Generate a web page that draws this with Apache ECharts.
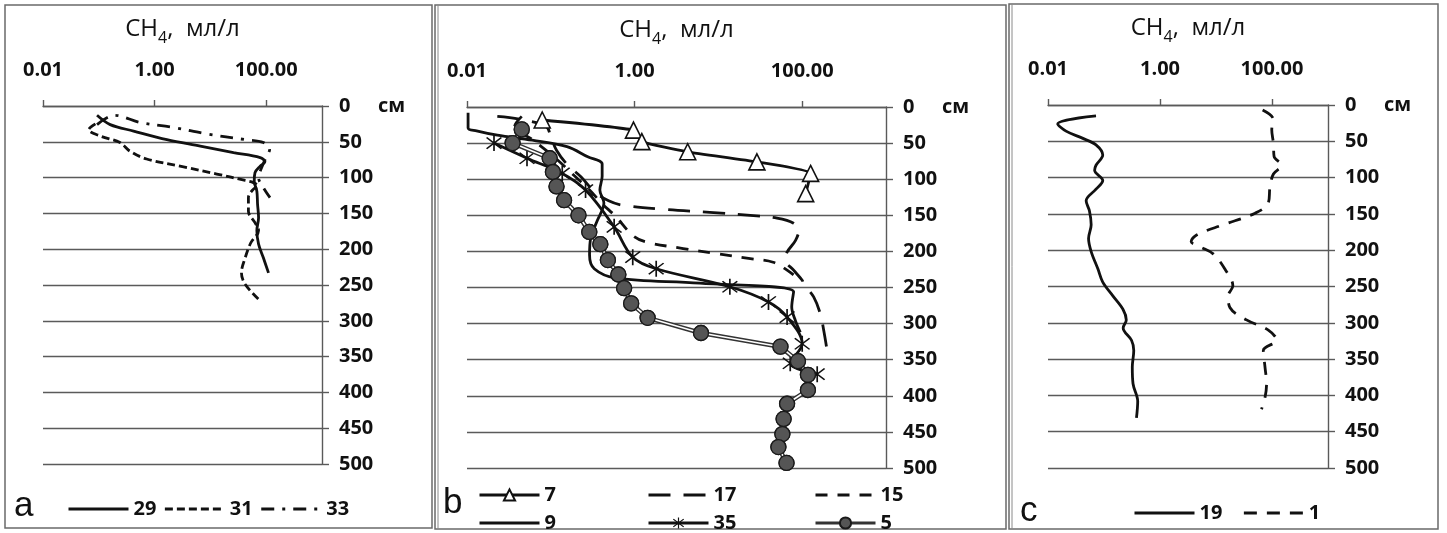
<!DOCTYPE html>
<html>
<head>
<meta charset="utf-8">
<script src="https://cdn.jsdelivr.net/npm/echarts@6/dist/echarts.min.js"></script>
<style>
html,body{margin:0;padding:0;background:#fff;}
#chart{width:1447px;height:533px;}
</style>
</head>
<body>
<div id="chart"></div>
<script>
// ---------- tick labels ----------
const xTickValues = [0.01, 1, 100];          // labelled CH4 ticks (log axis)
const depthMin = 0, depthMax = 500, depthStep = 50;
const xAxisTitle = '{m|CH}{s|4}{m|,  мл/л}';
const depthUnit = 'см';
const panelLetters = ['a', 'b', 'c'];

// ---------- panel a ----------
const a29Depth = [13, 26, 35, 47, 56, 65, 72, 78, 84, 93, 105, 119, 137, 156, 174, 193, 212, 233];
const a29CH4   = [0.093, 0.16, 0.42, 1.66, 6.6, 26, 78, 95, 78, 63, 61, 68, 70, 73, 68, 73, 89, 110];
const a31Depth = [25, 33, 42, 51, 63, 74, 85, 95, 104, 107, 112, 116, 128, 147, 163, 174, 191, 212, 233, 249, 270];
const a31CH4   = [0.087, 0.066, 0.107, 0.24, 0.36, 0.72, 3.3, 13, 42, 59, 72, 59, 48, 48, 63, 73, 53, 42, 36, 42, 73];
const a33Depth = [26, 13, 23, 30, 39, 47, 51, 61, 70, 86, 100, 114, 128];
const a33CH4   = [0.093, 0.19, 0.55, 2.2, 8.7, 42, 89, 115, 102, 83, 73, 89, 117];

// ---------- panel b ----------
const b7Depth  = [18, 32, 48, 62, 76, 92, 120];
const b7CH4    = [0.079, 0.97, 1.22, 4.3, 28.8, 126, 110];
const b9Depth  = [8, 29, 33, 39, 46, 55, 69, 79, 96, 115, 133, 157, 181, 205, 224, 237, 244, 256, 277, 296, 312];
const b9CH4    = [0.0103, 0.0103, 0.013, 0.023, 0.06, 0.156, 0.276, 0.41, 0.41, 0.385, 0.43, 0.36, 0.30, 0.29, 0.33, 0.6, 6, 79, 75, 83, 95];
const b17Depth = [13, 17, 27, 41, 60, 79, 97, 117, 130, 136, 142, 146, 150, 154, 161, 171, 185, 201, 212, 226, 240, 245, 263, 287, 310, 340];
const b17CH4   = [0.023, 0.043, 0.088, 0.10, 0.117, 0.155, 0.23, 0.33, 0.49, 0.72, 2.4, 7.9, 24, 50, 79, 91, 83, 66, 63, 79, 100, 104, 137, 165, 181, 200];
const b15Depth = [13, 27, 45, 71, 95, 115, 134, 152, 178, 187, 196, 203, 210, 215, 226, 240];
const b15CH4   = [0.045, 0.037, 0.06, 0.114, 0.19, 0.29, 0.41, 0.6, 0.95, 1.37, 3.8, 9.5, 24, 45, 66, 95];
const b35Depth = [50, 71, 92, 115, 166, 208, 224, 249, 270, 291, 328, 355, 370];
const b35CH4   = [0.021, 0.052, 0.137, 0.26, 0.57, 0.95, 1.81, 13.7, 39.6, 66, 100, 72, 151];
const b5Depth  = [31, 50, 71, 90, 110, 129, 150, 173, 190, 212, 232, 251, 272, 292, 313, 332, 352, 371, 392, 411, 432, 453, 471, 493];
const b5CH4    = [0.045, 0.035, 0.097, 0.106, 0.117, 0.144, 0.214, 0.288, 0.39, 0.48, 0.64, 0.75, 0.91, 1.43, 6.2, 55, 89, 117, 117, 66, 60, 58, 52, 65];

// ---------- panel c ----------
const c19Depth = [15, 26, 36, 46, 55, 69, 83, 90, 104, 116, 132, 146, 165, 184, 202, 226, 244, 263, 282, 296, 307, 324, 338, 361, 384, 408, 431];
const c19CH4   = [0.072, 0.0149, 0.021, 0.042, 0.072, 0.095, 0.072, 0.068, 0.095, 0.072, 0.048, 0.055, 0.059, 0.053, 0.059, 0.078, 0.095, 0.144, 0.22, 0.25, 0.22, 0.31, 0.34, 0.32, 0.33, 0.40, 0.38];
const c1Depth  = [7, 20, 34, 53, 71, 83, 95, 113, 135, 149, 165, 179, 188, 195, 205, 226, 249, 263, 279, 296, 310, 324, 338, 361, 384, 403, 419];
const c1CH4    = [68, 106, 99, 106, 109, 149, 106, 92, 86, 50, 13.4, 4.5, 3.6, 5.1, 8.9, 14.4, 20, 16.5, 17.7, 35, 86, 121, 70, 75, 80, 75, 65];

// ---------- helpers ----------
const FONT = '"Open Sans", Lato, sans-serif';
const INK = '#111';
const GRID_COL = '#5a5a5a';
const pairs = (vals, depths) => vals.map((v, i) => [v, depths[i]]);
const isTick = v => xTickValues.some(t => Math.abs(v - t) / t < 1e-6);

const grids = [
  { left: 43,  top: 106, width: 279, height: 358 },
  { left: 467, top: 107, width: 419, height: 361 },
  { left: 1048, top: 105, width: 280, height: 363 }
];

const tickFont = { fontFamily: FONT, fontWeight: 'bold', fontSize: 20, color: INK };

function xAxis(i) {
  return {
    type: 'log', logBase: 10, gridIndex: i, position: 'top',
    min: 0.01, max: 1000,
    axisLine: { show: true, lineStyle: { color: GRID_COL, width: 1.4 } },
    axisTick: { show: true, length: 6, customValues: xTickValues, lineStyle: { color: GRID_COL, width: 1.4 } },
    minorTick: { show: false },
    splitLine: { show: false },
    axisLabel: Object.assign({
      customValues: xTickValues, margin: 26,
      formatter: v => isTick(v) ? Number(v).toFixed(2) : ''
    }, tickFont),
    name: xAxisTitle, nameLocation: 'middle', nameGap: 60,
    nameTextStyle: {
      rich: {
        m: { fontFamily: FONT, fontSize: 24, color: INK, lineHeight: 24, verticalAlign: 'top' },
        s: { fontFamily: FONT, fontSize: 16, color: INK, lineHeight: 29, verticalAlign: 'bottom' }
      }
    }
  };
}
function yAxis(i) {
  return {
    type: 'value', gridIndex: i, position: 'right', inverse: true,
    min: depthMin, max: depthMax, interval: depthStep,
    axisLine: { show: true, lineStyle: { color: GRID_COL, width: 1.4 } },
    axisTick: { show: true, length: 7, lineStyle: { color: GRID_COL, width: 1.4 } },
    splitLine: { show: true, lineStyle: { color: GRID_COL, width: 1.4 } },
    axisLabel: Object.assign({
      margin: 17,
      formatter: v => v === 0 ? '{z|0}{u|' + depthUnit + '}' : String(v),
      rich: {
        z: Object.assign({ width: 39 }, tickFont),
        u: Object.assign({}, tickFont)
      }
    }, tickFont)
  };
}
function lineSeries(name, i, vals, depths, dash, extra) {
  return Object.assign({
    name, type: 'line', xAxisIndex: i, yAxisIndex: i,
    data: pairs(vals, depths), smooth: 0.35, symbol: 'none',
    lineStyle: { color: INK, width: 2.8, type: dash || 'solid' },
    itemStyle: { color: 'transparent' },
    z: 3
  }, extra || {});
}

const asterisk = 'path://M9.2,0L10.8,0L10.8,20L9.2,20Z M3.57,2.43L17.57,16.43L16.43,17.57L2.43,3.57Z M16.43,2.43L17.57,3.57L3.57,17.57L2.43,16.43Z';

const series = [
  // a
  lineSeries('29', 0, a29CH4, a29Depth, 'solid'),
  lineSeries('31', 0, a31CH4, a31Depth, [8, 4]),
  lineSeries('33', 0, a33CH4, a33Depth, [13, 8, 3, 8]),
  // b
  lineSeries('7', 1, b7CH4, b7Depth, 'solid', {
    smooth: 0.15, symbol: 'triangle', symbolSize: 16, showSymbol: true,
    itemStyle: { color: '#fff', borderColor: INK, borderWidth: 1.6 }, z: 5
  }),
  lineSeries('9', 1, b9CH4, b9Depth, 'solid'),
  lineSeries('17', 1, b17CH4, b17Depth, [22, 13]),
  lineSeries('35', 1, b35CH4, b35Depth, 'solid', {
    symbol: asterisk, symbolSize: 16, showSymbol: true,
    itemStyle: { color: INK }
  }),
  lineSeries('15', 1, b15CH4, b15Depth, [12, 10]),
  lineSeries('5', 1, b5CH4, b5Depth, 'solid', {
    smooth: false, symbol: 'circle', symbolSize: 15, showSymbol: true,
    lineStyle: { color: '#333', width: 4.5 },
    itemStyle: { color: '#555', borderColor: '#1a1a1a', borderWidth: 1.3 }, z: 4
  }),
  lineSeries('5 inner', 1, b5CH4, b5Depth, 'solid', {
    smooth: false, silent: true, lineStyle: { color: '#fff', width: 1.6 }, z: 5
  }),
  {
    name: '5 marks', type: 'scatter', xAxisIndex: 1, yAxisIndex: 1, silent: true,
    data: pairs(b5CH4, b5Depth), symbol: 'circle', symbolSize: 15,
    itemStyle: { color: '#555', borderColor: '#1a1a1a', borderWidth: 1.3, opacity: 1 }, z: 6
  },
  // c
  lineSeries('19', 2, c19CH4, c19Depth, 'solid'),
  lineSeries('1', 2, c1CH4, c1Depth, [13, 10])
];

const legendText = { fontFamily: FONT, fontWeight: 'bold', fontSize: 20, color: INK };
function legend(names, left, top, orient, gap) {
  return {
    data: names, left, top, orient: orient || 'horizontal',
    width: orient === 'vertical' ? 140 : 400,
    height: orient === 'vertical' ? 80 : 40,
    itemWidth: 60, itemHeight: 14, itemGap: gap, padding: 0,
    lineStyle: { width: 3 },
    textStyle: legendText, selectedMode: false, inactiveColor: INK
  };
}

const borderStyle = { fill: 'none', stroke: '#6a6a6a', lineWidth: 1.5 };
const letterStyle = { fill: INK, font: '35px "Liberation Sans", Arial, sans-serif' };

const option = {
  animation: false,
  backgroundColor: '#fff',
  grid: grids.map(g => Object.assign({ containLabel: false, outerBoundsMode: 'none' }, g)),
  xAxis: [0, 1, 2].map(xAxis),
  yAxis: [0, 1, 2].map(yAxis),
  legend: [
    legend(['29', '31', '33'], 67, 499, 'horizontal', 7),
    legend(['7', '9'], 478, 485, 'vertical', 8),
    legend(['17', '35'], 647, 485, 'vertical', 8),
    legend(['15', '5'], 814, 485, 'vertical', 8),
    legend(['19', '1'], 1133, 503, 'horizontal', 20)
  ],
  graphic: [
    { type: 'rect', silent: true, shape: { x: 5, y: 5, width: 427, height: 523 }, style: borderStyle },
    { type: 'rect', silent: true, shape: { x: 435, y: 5, width: 571, height: 524 }, style: borderStyle },
    { type: 'line', silent: true, shape: { x1: 438, y1: 5, x2: 438, y2: 529 }, style: { stroke: '#8a8a8a', lineWidth: 1 } },
    { type: 'rect', silent: true, shape: { x: 1009, y: 4, width: 429, height: 525 }, style: borderStyle },
    { type: 'line', silent: true, shape: { x1: 1012, y1: 4, x2: 1012, y2: 529 }, style: { stroke: '#8a8a8a', lineWidth: 1 } },
    { type: 'text', silent: true, left: 14, top: 489, style: Object.assign({ text: panelLetters[0] }, letterStyle) },
    { type: 'text', silent: true, left: 443, top: 486, style: Object.assign({ text: panelLetters[1] }, letterStyle) },
    { type: 'text', silent: true, left: 1020, top: 494, style: Object.assign({ text: panelLetters[2] }, letterStyle) }
  ],
  series
};

const chart = echarts.init(document.getElementById('chart'), null, { renderer: 'canvas' });
chart.setOption(option);
</script>
</body>
</html>
